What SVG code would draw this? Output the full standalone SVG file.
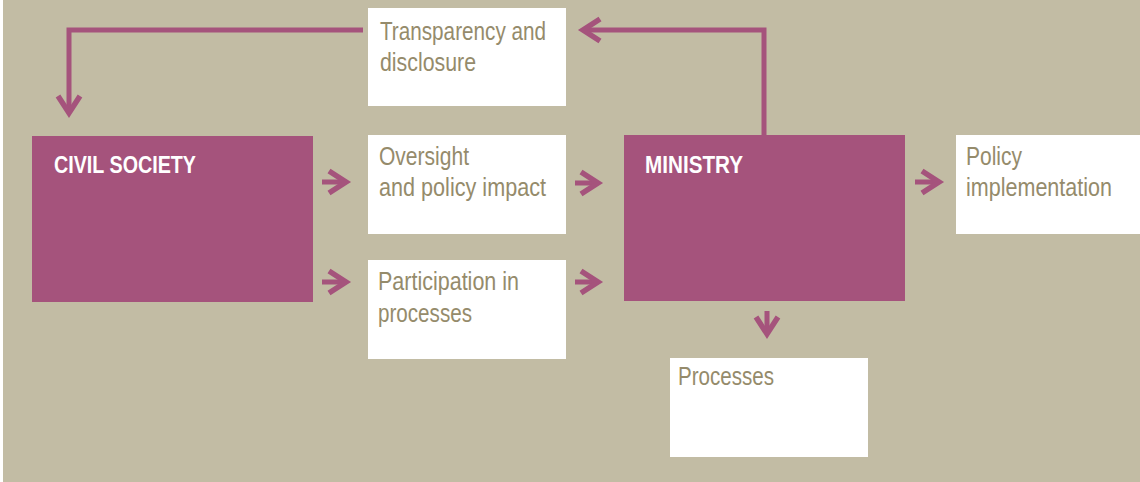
<svg xmlns="http://www.w3.org/2000/svg" width="1140" height="482" viewBox="0 0 1140 482">
  <style>
    .bg { fill: #c2bca4; }
    .dark { fill: #a5537c; }
    .light { fill: #ffffff; }
    .title { font-family: "Liberation Sans Narrow", "Arial Narrow", "Liberation Sans", sans-serif; font-weight: bold; font-size: 23px; fill: #ffffff; }
    .label { font-family: "Liberation Sans Narrow", "Arial Narrow", "Liberation Sans", sans-serif; font-size: 26px; fill: #958b6b; }
    .conn { fill: none; stroke: #a5537c; stroke-width: 5; marker-end: url(#chev); }
  </style>
  <defs>
    <marker id="chev" markerUnits="userSpaceOnUse" viewBox="-30 -20 40 40" markerWidth="40" markerHeight="40" refX="0" refY="0" orient="auto" overflow="visible">
      <path d="M-17,-11 L0,0 L-17,11" fill="none" stroke="#a5537c" stroke-width="5.5"/>
    </marker>
  </defs>
  <rect x="0" y="0" width="1140" height="482" fill="#ffffff"/>
  <rect class="bg" x="3" y="0" width="1137" height="482"/>

  <g id="connectors">
    <path class="conn" d="M363,30 H69 V113"/>
    <path class="conn" d="M764,136 V30 H583"/>
    <path class="conn" d="M322,182 H346"/>
    <path class="conn" d="M322,282 H346"/>
    <path class="conn" d="M575,183 H598"/>
    <path class="conn" d="M575,282 H598"/>
    <path class="conn" d="M915,182 H939"/>
    <path class="conn" d="M767,311 V334"/>
  </g>

  <g id="civil-society">
    <rect class="dark" x="32" y="136" width="281" height="166"/>
    <text class="title" x="54" y="173" textLength="142" lengthAdjust="spacingAndGlyphs">CIVIL SOCIETY</text>
  </g>
  <g id="ministry">
    <rect class="dark" x="624" y="135" width="281" height="166"/>
    <text class="title" x="645" y="173" textLength="98" lengthAdjust="spacingAndGlyphs">MINISTRY</text>
  </g>
  <g id="transparency">
    <rect class="light" x="368" y="8" width="198" height="98"/>
    <text class="label" x="380" y="40" textLength="166" lengthAdjust="spacingAndGlyphs">Transparency and</text>
    <text class="label" x="380" y="71" textLength="96" lengthAdjust="spacingAndGlyphs">disclosure</text>
  </g>
  <g id="oversight">
    <rect class="light" x="368" y="135" width="198" height="99"/>
    <text class="label" x="379" y="165" textLength="90" lengthAdjust="spacingAndGlyphs">Oversight</text>
    <text class="label" x="379" y="196" textLength="167" lengthAdjust="spacingAndGlyphs">and policy impact</text>
  </g>
  <g id="participation">
    <rect class="light" x="368" y="260" width="198" height="99"/>
    <text class="label" x="378" y="290" textLength="141" lengthAdjust="spacingAndGlyphs">Participation in</text>
    <text class="label" x="378" y="322" textLength="94" lengthAdjust="spacingAndGlyphs">processes</text>
  </g>
  <g id="policy">
    <rect class="light" x="956" y="135" width="184" height="99"/>
    <text class="label" x="966" y="165" textLength="56" lengthAdjust="spacingAndGlyphs">Policy</text>
    <text class="label" x="966" y="196" textLength="146" lengthAdjust="spacingAndGlyphs">implementation</text>
  </g>
  <g id="processes">
    <rect class="light" x="670" y="358" width="198" height="99"/>
    <text class="label" x="678" y="385" textLength="96" lengthAdjust="spacingAndGlyphs">Processes</text>
  </g>
</svg>
